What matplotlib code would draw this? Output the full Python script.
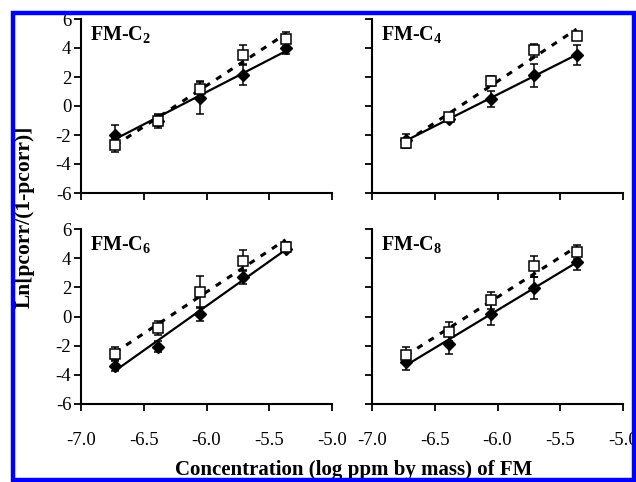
import numpy as np
import matplotlib
matplotlib.use("Agg")
import matplotlib.pyplot as plt
from matplotlib.patches import Rectangle

plt.rcParams["font.family"] = ["Liberation Serif", "DejaVu Serif"]
plt.rcParams["mathtext.fontset"] = "custom"
plt.rcParams["mathtext.rm"] = "Liberation Serif"
plt.rcParams["mathtext.bf"] = "Liberation Serif:bold"
plt.rcParams["axes.unicode_minus"] = False

# log concentration (ppm by mass)
log_conc = [-6.73, -6.39, -6.05, -5.71, -5.37]

panels = [r"FM-C$_\mathbf{2}$", r"FM-C$_\mathbf{4}$",
          r"FM-C$_\mathbf{6}$", r"FM-C$_\mathbf{8}$"]

# filled diamonds (solid trend line)
filled_vals = [
    [-2.00, -1.00, 0.53, 2.17, 4.00],
    [-2.35, -0.91, 0.46, 2.12, 3.54],
    [-3.36, -2.06, 0.18, 2.70, 4.64],
    [-3.13, -1.87, 0.14, 1.97, 3.77],
]
filled_err = [
    [0.70, 0.40, 1.10, 0.75, 0.40],
    [0.40, 0.20, 0.55, 0.80, 0.70],
    [0.40, 0.40, 0.50, 0.50, 0.20],
    [0.57, 0.70, 0.70, 0.76, 0.57],
]

# open squares (dotted trend line)
open_vals = [
    [-2.70, -1.05, 1.19, 3.54, 4.62],
    [-2.58, -0.75, 1.71, 3.84, 4.84],
    [-2.56, -0.78, 1.67, 3.84, 4.80],
    [-2.67, -1.03, 1.10, 3.45, 4.41],
]
open_err = [
    [0.45, 0.50, 0.55, 0.70, 0.50],
    [0.30, 0.25, 0.35, 0.45, 0.20],
    [0.50, 0.50, 1.10, 0.70, 0.30],
    [0.60, 0.65, 0.57, 0.73, 0.50],
]

x_ticks = [-7.0, -6.5, -6.0, -5.5, -5.0]
y_ticks = [-6, -4, -2, 0, 2, 4, 6]

W, H = 636, 482
fig = plt.figure(figsize=(W / 100, H / 100), dpi=100)

# axes boxes in pixels: left, top, right, bottom
boxes = [
    (81, 19, 332, 193),
    (372, 19, 623, 193),
    (81, 229, 332, 404),
    (372, 229, 623, 404),
]

x = np.array(log_conc)
for i, (l, t, r, b) in enumerate(boxes):
    ax = fig.add_axes([l / W, 1 - b / H, (r - l) / W, (b - t) / H])
    ax.set_xlim(-7.0, -5.0)
    ax.set_ylim(-6, 6)
    for s in ("top", "right"):
        ax.spines[s].set_visible(False)
    for s in ("left", "bottom"):
        ax.spines[s].set_linewidth(1.5)
        ax.spines[s].set_color("black")
    ax.set_xticks(x_ticks)
    ax.set_yticks(y_ticks)
    ax.set_xticklabels([f"{v:.1f}" for v in x_ticks])
    ax.set_yticklabels([str(v) for v in y_ticks])
    ax.tick_params(axis="x", direction="out", length=5, width=1.3,
                   labelsize=13.5, pad=15)
    ax.tick_params(axis="y", direction="out", length=5, width=1.3,
                   labelsize=13.5, pad=2)
    if i < 2:
        ax.tick_params(axis="x", labelbottom=False)
    if i % 2 == 1:
        ax.tick_params(axis="y", labelleft=False)

    yf = np.array(filled_vals[i])
    yo = np.array(open_vals[i])

    # linear trend lines
    pf = np.polyfit(x, yf, 1)
    po = np.polyfit(x, yo, 1)
    xl = np.array([x[0], x[-1]])
    ax.plot(xl, np.polyval(pf, xl), color="black", lw=1.6, zorder=2)
    ax.plot(xl, np.polyval(po, xl), color="black", lw=2.2,
            linestyle=(0, (2.0, 2.4)), zorder=2)

    ax.errorbar(x, yf, yerr=filled_err[i], fmt="D", color="black",
                mfc="black", mec="black", ms=6, elinewidth=1.1,
                capsize=3, capthick=1.1, zorder=3)
    ax.errorbar(x, yo, yerr=open_err[i], fmt="s", color="black",
                mfc="white", mec="black", mew=1.1, ms=6.5, elinewidth=1.1,
                capsize=3, capthick=1.1, zorder=4)

    ax.text(0.035, 0.965, panels[i], transform=ax.transAxes, ha="left",
            va="top", fontsize=14.5, fontweight="bold")

fig.text(25 / W, 1 - 217 / H, "Ln[pcorr/(1-pcorr)]", rotation=90,
         ha="center", va="center", fontsize=15.5, fontweight="bold")
fig.text(354 / W, 1 - 475 / H, "Concentration (log ppm by mass) of FM",
         ha="center", va="baseline", fontsize=15, fontweight="bold")

# blue frame around the figure
fig.patches.append(Rectangle((13 / W, 1 - 480 / H), (634 - 13) / W,
                             (480 - 12.5) / H, transform=fig.transFigure,
                             fill=False, edgecolor="#0000ff", lw=3.2,
                             zorder=10))

fig.savefig("out.png", dpi=100)
